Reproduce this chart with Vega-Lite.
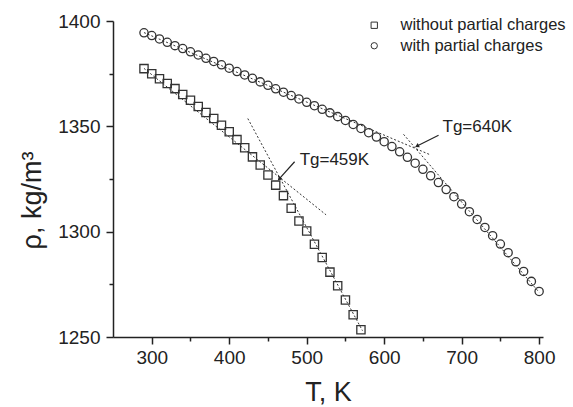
{
  "$schema": "https://vega.github.io/schema/vega-lite/v6.json",
  "width": 430,
  "height": 316,
  "autosize": "none",
  "padding": {"left": 113, "top": 21, "right": 30, "bottom": 70},
  "background": "white",
  "config": {
    "font": "Liberation Sans",
    "view": {"stroke": null},
    "axis": {
      "domainColor": "#222",
      "domainWidth": 1.5,
      "tickColor": "#222",
      "tickWidth": 1.5,
      "labelColor": "#222",
      "labelFont": "Liberation Sans",
      "labelFontSize": 19,
      "titleFont": "Liberation Sans",
      "titleFontWeight": "normal",
      "titleColor": "#222",
      "titleFontSize": 27,
      "grid": false
    }
  },
  "datasets": {
    "pts": [
      {"T": 290, "rho": 1377.4, "series": "without partial charges"},
      {"T": 300, "rho": 1375.0, "series": "without partial charges"},
      {"T": 310, "rho": 1372.6, "series": "without partial charges"},
      {"T": 320, "rho": 1370.3, "series": "without partial charges"},
      {"T": 330, "rho": 1367.9, "series": "without partial charges"},
      {"T": 340, "rho": 1365.1, "series": "without partial charges"},
      {"T": 350, "rho": 1362.4, "series": "without partial charges"},
      {"T": 360, "rho": 1359.4, "series": "without partial charges"},
      {"T": 370, "rho": 1356.6, "series": "without partial charges"},
      {"T": 380, "rho": 1353.7, "series": "without partial charges"},
      {"T": 390, "rho": 1350.5, "series": "without partial charges"},
      {"T": 400, "rho": 1347.4, "series": "without partial charges"},
      {"T": 410, "rho": 1343.7, "series": "without partial charges"},
      {"T": 420, "rho": 1339.8, "series": "without partial charges"},
      {"T": 430, "rho": 1335.5, "series": "without partial charges"},
      {"T": 440, "rho": 1331.6, "series": "without partial charges"},
      {"T": 450, "rho": 1326.9, "series": "without partial charges"},
      {"T": 460, "rho": 1322.1, "series": "without partial charges"},
      {"T": 470, "rho": 1317.1, "series": "without partial charges"},
      {"T": 480, "rho": 1311.1, "series": "without partial charges"},
      {"T": 490, "rho": 1305.1, "series": "without partial charges"},
      {"T": 500, "rho": 1300.3, "series": "without partial charges"},
      {"T": 510, "rho": 1294.0, "series": "without partial charges"},
      {"T": 520, "rho": 1287.7, "series": "without partial charges"},
      {"T": 530, "rho": 1280.8, "series": "without partial charges"},
      {"T": 540, "rho": 1274.3, "series": "without partial charges"},
      {"T": 550, "rho": 1267.6, "series": "without partial charges"},
      {"T": 560, "rho": 1260.6, "series": "without partial charges"},
      {"T": 570, "rho": 1253.4, "series": "without partial charges"},
      {"T": 290, "rho": 1394.4, "series": "with partial charges"},
      {"T": 300, "rho": 1393.1, "series": "with partial charges"},
      {"T": 310, "rho": 1391.5, "series": "with partial charges"},
      {"T": 320, "rho": 1389.9, "series": "with partial charges"},
      {"T": 330, "rho": 1388.3, "series": "with partial charges"},
      {"T": 340, "rho": 1386.9, "series": "with partial charges"},
      {"T": 350, "rho": 1385.4, "series": "with partial charges"},
      {"T": 360, "rho": 1383.9, "series": "with partial charges"},
      {"T": 370, "rho": 1382.3, "series": "with partial charges"},
      {"T": 380, "rho": 1380.8, "series": "with partial charges"},
      {"T": 390, "rho": 1379.2, "series": "with partial charges"},
      {"T": 400, "rho": 1377.6, "series": "with partial charges"},
      {"T": 410, "rho": 1376.0, "series": "with partial charges"},
      {"T": 420, "rho": 1374.4, "series": "with partial charges"},
      {"T": 430, "rho": 1372.8, "series": "with partial charges"},
      {"T": 440, "rho": 1371.1, "series": "with partial charges"},
      {"T": 450, "rho": 1369.5, "series": "with partial charges"},
      {"T": 460, "rho": 1367.8, "series": "with partial charges"},
      {"T": 470, "rho": 1366.2, "series": "with partial charges"},
      {"T": 480, "rho": 1364.6, "series": "with partial charges"},
      {"T": 490, "rho": 1363.0, "series": "with partial charges"},
      {"T": 500, "rho": 1361.4, "series": "with partial charges"},
      {"T": 510, "rho": 1359.8, "series": "with partial charges"},
      {"T": 520, "rho": 1358.1, "series": "with partial charges"},
      {"T": 530, "rho": 1356.4, "series": "with partial charges"},
      {"T": 540, "rho": 1354.6, "series": "with partial charges"},
      {"T": 550, "rho": 1352.8, "series": "with partial charges"},
      {"T": 560, "rho": 1350.9, "series": "with partial charges"},
      {"T": 570, "rho": 1349.0, "series": "with partial charges"},
      {"T": 580, "rho": 1347.0, "series": "with partial charges"},
      {"T": 590, "rho": 1344.9, "series": "with partial charges"},
      {"T": 600, "rho": 1342.7, "series": "with partial charges"},
      {"T": 610, "rho": 1340.4, "series": "with partial charges"},
      {"T": 620, "rho": 1337.9, "series": "with partial charges"},
      {"T": 630, "rho": 1335.3, "series": "with partial charges"},
      {"T": 640, "rho": 1332.5, "series": "with partial charges"},
      {"T": 650, "rho": 1329.6, "series": "with partial charges"},
      {"T": 660, "rho": 1326.5, "series": "with partial charges"},
      {"T": 670, "rho": 1323.3, "series": "with partial charges"},
      {"T": 680, "rho": 1320.0, "series": "with partial charges"},
      {"T": 690, "rho": 1316.6, "series": "with partial charges"},
      {"T": 700, "rho": 1313.1, "series": "with partial charges"},
      {"T": 710, "rho": 1309.5, "series": "with partial charges"},
      {"T": 720, "rho": 1305.8, "series": "with partial charges"},
      {"T": 730, "rho": 1302.0, "series": "with partial charges"},
      {"T": 740, "rho": 1298.1, "series": "with partial charges"},
      {"T": 750, "rho": 1294.1, "series": "with partial charges"},
      {"T": 760, "rho": 1290.0, "series": "with partial charges"},
      {"T": 770, "rho": 1285.7, "series": "with partial charges"},
      {"T": 780, "rho": 1281.1, "series": "with partial charges"},
      {"T": 790, "rho": 1276.4, "series": "with partial charges"},
      {"T": 800, "rho": 1271.6, "series": "with partial charges"}
    ],
    "tangents": [
      {"seg": "sq_glassy", "T": 290, "rho": 1377.5},
      {"seg": "sq_glassy", "T": 525, "rho": 1308.0},
      {"seg": "sq_rubbery", "T": 424, "rho": 1353.7},
      {"seg": "sq_rubbery", "T": 572, "rho": 1253.0},
      {"seg": "c_glassy", "T": 290, "rho": 1394.5},
      {"seg": "c_glassy", "T": 660, "rho": 1336.4},
      {"seg": "c_rubbery", "T": 625, "rho": 1346.2},
      {"seg": "c_rubbery", "T": 800, "rho": 1271.2}
    ],
    "arrows": [
      {"T1": 484.4, "r1": 1333.2, "T2": 465.1, "r2": 1325.3, "angle": 222},
      {"T1": 670.2, "r1": 1345.8, "T2": 643.1, "r2": 1340.8, "angle": 243}
    ],
    "labels": [
      {"T": 490.9, "rho": 1331.6, "text": "Tg=459K"},
      {"T": 675.3, "rho": 1347.4, "text": "Tg=640K"}
    ]
  },
  "layer": [
    {
      "data": {"name": "tangents"},
      "mark": {"type": "line", "color": "#333", "strokeWidth": 1, "strokeDash": [2, 2]},
      "encoding": {
        "x": {"field": "T", "type": "quantitative", "scale": {"domain": [250, 805], "nice": false, "zero": false},
              "axis": {"values": [300, 350, 400, 450, 500, 550, 600, 650, 700, 750, 800], "format": "d", "labelExpr": "datum.value % 100 === 0 ? datum.label : ''",
                       "tickSize": {"condition": {"test": "datum.value % 100 === 0", "value": 7}, "value": 4},
                       "labelPadding": 4, "title": "T, K", "titleX": 215, "titleY": 63, "titleBaseline": "alphabetic", "titleAlign": "center"}},
        "y": {"field": "rho", "type": "quantitative", "scale": {"domain": [1250, 1400], "nice": false, "zero": false},
              "axis": {"values": [1250, 1275, 1300, 1325, 1350, 1375, 1400], "format": "d", "labelExpr": "datum.value % 50 === 0 ? datum.label : ''",
                       "tickSize": {"condition": {"test": "datum.value % 50 === 0", "value": 7}, "value": 4},
                       "labelPadding": 6, "title": "ρ, kg/m³", "titleAngle": -90, "titleX": -73, "titleY": 179, "titleBaseline": "alphabetic", "titleAlign": "center"}},
        "detail": {"field": "seg", "type": "nominal"}
      }
    },
    {
      "data": {"name": "pts"},
      "mark": {"type": "point", "filled": false, "color": "#333", "strokeWidth": 1.3, "size": 68, "opacity": 1},
      "encoding": {
        "x": {"field": "T", "type": "quantitative"},
        "y": {"field": "rho", "type": "quantitative"},
        "shape": {"field": "series", "type": "nominal",
                  "scale": {"domain": ["without partial charges", "with partial charges"], "range": ["square", "circle"]},
                  "legend": {"title": null, "orient": "none", "legendX": 253, "legendY": -4, "labelFontSize": 16.5, "labelColor": "#222", "labelFont": "Liberation Sans", "labelLimit": 0,
                             "symbolSize": 40, "symbolStrokeColor": "#333", "symbolStrokeWidth": 1, "symbolFillColor": "white", "labelOffset": 18, "rowPadding": 3.5, "padding": 0}}
      }
    },
    {
      "data": {"name": "arrows"},
      "mark": {"type": "rule", "color": "#222", "strokeWidth": 1.2},
      "encoding": {
        "x": {"field": "T1", "type": "quantitative"},
        "y": {"field": "r1", "type": "quantitative"},
        "x2": {"field": "T2"},
        "y2": {"field": "r2"}
      }
    },
    {
      "data": {"name": "arrows"},
      "mark": {"type": "point", "shape": "triangle", "filled": true, "color": "#222", "size": 22, "opacity": 1},
      "encoding": {
        "x": {"field": "T2", "type": "quantitative"},
        "y": {"field": "r2", "type": "quantitative"},
        "angle": {"field": "angle", "type": "quantitative", "scale": null}
      }
    },
    {
      "data": {"name": "labels"},
      "mark": {"type": "text", "align": "left", "baseline": "alphabetic", "fontSize": 17, "color": "#222", "font": "Liberation Sans"},
      "encoding": {
        "x": {"field": "T", "type": "quantitative"},
        "y": {"field": "rho", "type": "quantitative"},
        "text": {"field": "text"}
      }
    }
  ]
}
